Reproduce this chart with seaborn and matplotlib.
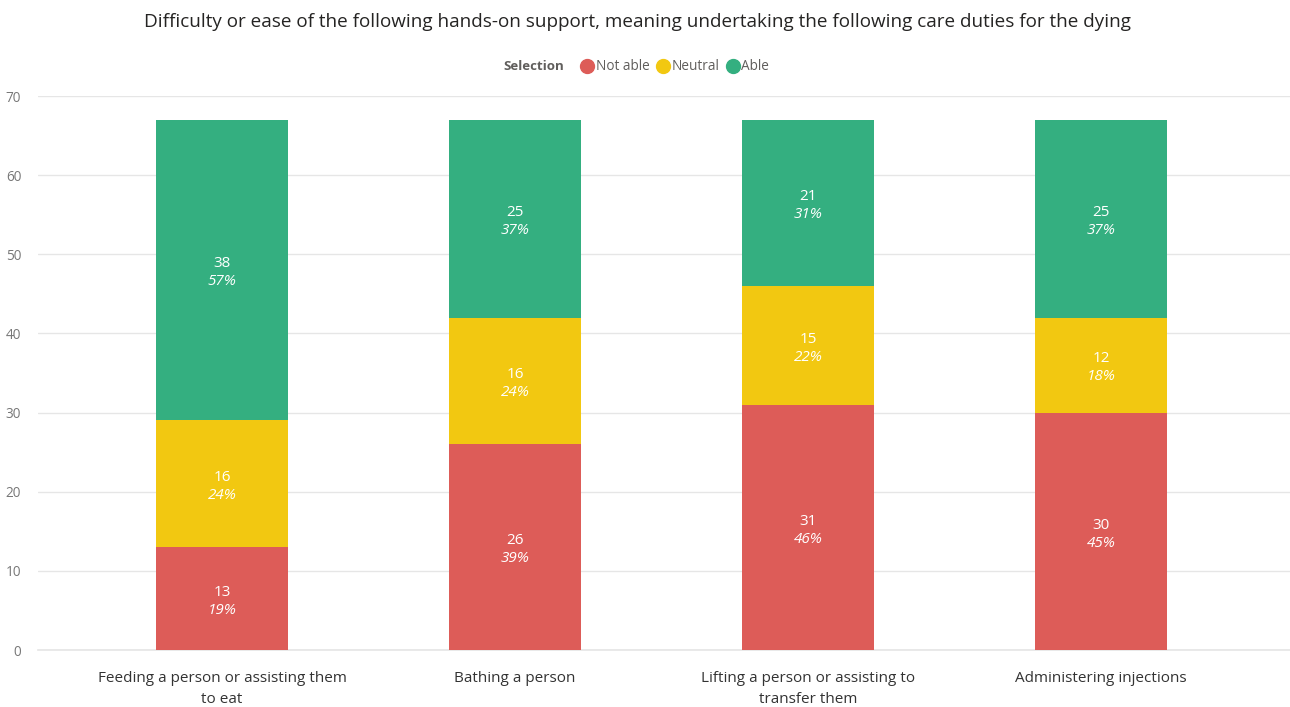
import numpy as np
import pandas as pd
import matplotlib
matplotlib.use("Agg")
import matplotlib.pyplot as plt
from matplotlib.lines import Line2D
import seaborn as sns

# Survey counts per care duty
categories = [
    "Feeding a person or assisting them\nto eat",
    "Bathing a person",
    "Lifting a person or assisting to\ntransfer them",
    "Administering injections",
]
not_able = [13, 26, 31, 30]
neutral = [16, 16, 15, 12]
able = [38, 25, 21, 25]
series_names = ["Not able", "Neutral", "Able"]
colors = ["#DD5C58", "#F2C811", "#34AF80"]

sns.set_theme(style="white")
plt.rcParams["font.family"] = ["Open Sans", "DejaVu Sans"]

fig = plt.figure(figsize=(12.9, 7.07), dpi=100)
ax = fig.add_axes([38 / 1290, 57 / 707, 1252 / 1290, 554 / 707])

layers = [not_able, neutral, able]
cum = np.cumsum(np.array(layers), axis=0)
totals = cum[-1]

# Stacked bars: draw the cumulative tops from the tallest down
for i in reversed(range(len(layers))):
    df = pd.DataFrame({"category": categories, "value": cum[i]})
    sns.barplot(data=df, x="category", y="value", color=colors[i],
                saturation=1, width=0.45, ax=ax, zorder=3, linewidth=0,
                edgecolor="none")

# Segment labels: count and share of the column total
for j in range(len(categories)):
    for i in range(len(layers)):
        v = layers[i][j]
        bottom = cum[i][j] - v
        mid = bottom + v / 2
        pct = round(v / totals[j] * 100)
        ax.annotate(f"{v}", (j, mid), xytext=(0, 4.5), textcoords="offset points",
                    ha="center", va="center", color="white", fontsize=11,
                    zorder=5)
        ax.annotate(f"{pct}%", (j, mid), xytext=(0, -8.5), textcoords="offset points",
                    ha="center", va="center", color="white", fontsize=11,
                    style="italic", zorder=5)

ax.set_ylim(0, 70)
ax.set_yticks(range(0, 71, 10))
ax.set_xlim(-0.628, 3.645)
ax.grid(axis="y", color="#E6E6E6", linewidth=1, zorder=0)
ax.set_axisbelow(True)
for s in ax.spines.values():
    s.set_visible(False)
ax.set_xlabel("")
ax.set_ylabel("")
ax.tick_params(axis="y", colors="#777777", labelsize=9.8, length=0, pad=12)
ax.tick_params(axis="x", colors="#333333", labelsize=11, length=0, pad=15)
for lbl in ax.get_xticklabels():
    lbl.set_linespacing(1.6)
ax.spines["bottom"].set_visible(True)
ax.spines["bottom"].set_color("#E6E6E6")

fig.text(638 / 1290, 1 - 22 / 707,
         "Difficulty or ease of the following hands-on support, meaning undertaking the following care duties for the dying",
         ha="center", va="center", fontsize=13.6, color="#252423")

fig.text(534 / 1290, 1 - 67 / 707, "Selection", ha="center", va="center",
         fontsize=9.5, fontweight="bold", color="#605E5C")
handles = [Line2D([0], [0], marker="o", linestyle="", markersize=10,
                  markerfacecolor=c, markeredgecolor=c) for c in colors]
fig.legend(handles, series_names, loc="center", bbox_to_anchor=(674 / 1290, 1 - 67 / 707),
           ncol=3, frameon=False, fontsize=9.8, labelcolor="#605E5C",
           handletextpad=0.0, columnspacing=0.4, handlelength=1.2)

fig.savefig("out.png", dpi=100)
